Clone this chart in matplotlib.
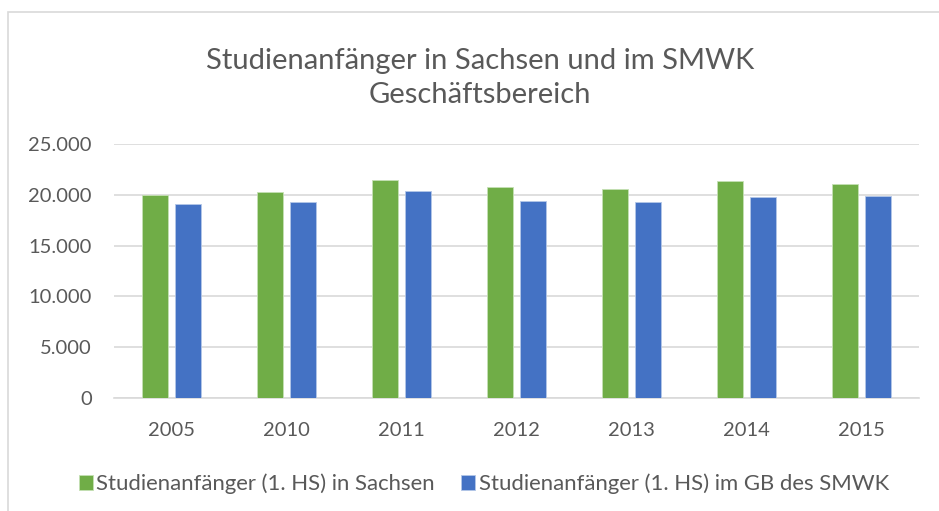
import matplotlib
matplotlib.use("Agg")
import matplotlib.pyplot as plt
import numpy as np
from matplotlib.patches import Rectangle
from matplotlib.ticker import FuncFormatter

YEARS = ["2005", "2010", "2011", "2012", "2013", "2014", "2015"]
SACHSEN = [19940, 20230, 21460, 20780, 20590, 21370, 21070]
SMWK = [19060, 19260, 20330, 19390, 19260, 19800, 19840]
LABELS = ["Studienanfänger (1. HS) in Sachsen",
          "Studienanfänger (1. HS) im GB des SMWK"]
TITLE = "Studienanfänger in Sachsen und im SMWK\nGeschäftsbereich"

GREEN = "#70AD47"
BLUE = "#4472C4"
TXT = "#595959"
GRID = "#d9d9d9"

plt.rcParams["font.family"] = ["Lato", "DejaVu Sans"]

fig = plt.figure(figsize=(9.39, 5.11), dpi=100)
ax = fig.add_axes([114 / 939, 1 - 398 / 511, 805 / 939, 254 / 511])

x = np.arange(len(YEARS))
w = 0.226
off = 0.143
ax.bar(x - off, SACHSEN, w, color=GREEN, edgecolor="#c5e0b4", lw=0.6,
       label=LABELS[0], zorder=3)
ax.bar(x + off, SMWK, w, color=BLUE, edgecolor="#b4c7e7", lw=0.6,
       label=LABELS[1], zorder=3)

ax.set_xlim(-0.5, len(YEARS) - 0.5)
ax.set_ylim(0, 25000)
ax.set_yticks(np.arange(0, 25001, 5000))
ax.yaxis.set_major_formatter(FuncFormatter(lambda v, _: f"{int(v):,}".replace(",", ".")))
ax.set_xticks(x, YEARS)
ax.grid(axis="y", color=GRID, lw=1.2, zorder=0)
for s in ("top", "right", "left"):
    ax.spines[s].set_visible(False)
ax.spines["bottom"].set_color(GRID)
ax.spines["bottom"].set_linewidth(1.2)
ax.tick_params(axis="both", length=0, colors=TXT, labelsize=14.5)
ax.tick_params(axis="y", pad=16)
ax.tick_params(axis="x", pad=17)

fig.text(480 / 939, 1 - 78 / 511, TITLE, ha="center", va="center", color=TXT,
         fontsize=21, linespacing=1.38)

fig.legend(loc="center", bbox_to_anchor=(484 / 939, 1 - 484 / 511), ncol=2,
           frameon=False, fontsize=15.9, labelcolor=TXT, handlelength=0.63,
           handleheight=0.63, handletextpad=0.15, columnspacing=1.2)

fig.patches.append(Rectangle((7.5 / 939, -0.1), 1.2, 1.1 - 12.5 / 511,
                             transform=fig.transFigure, fill=False,
                             edgecolor=GRID, lw=1.2))

fig.savefig("out.png", dpi=100)
